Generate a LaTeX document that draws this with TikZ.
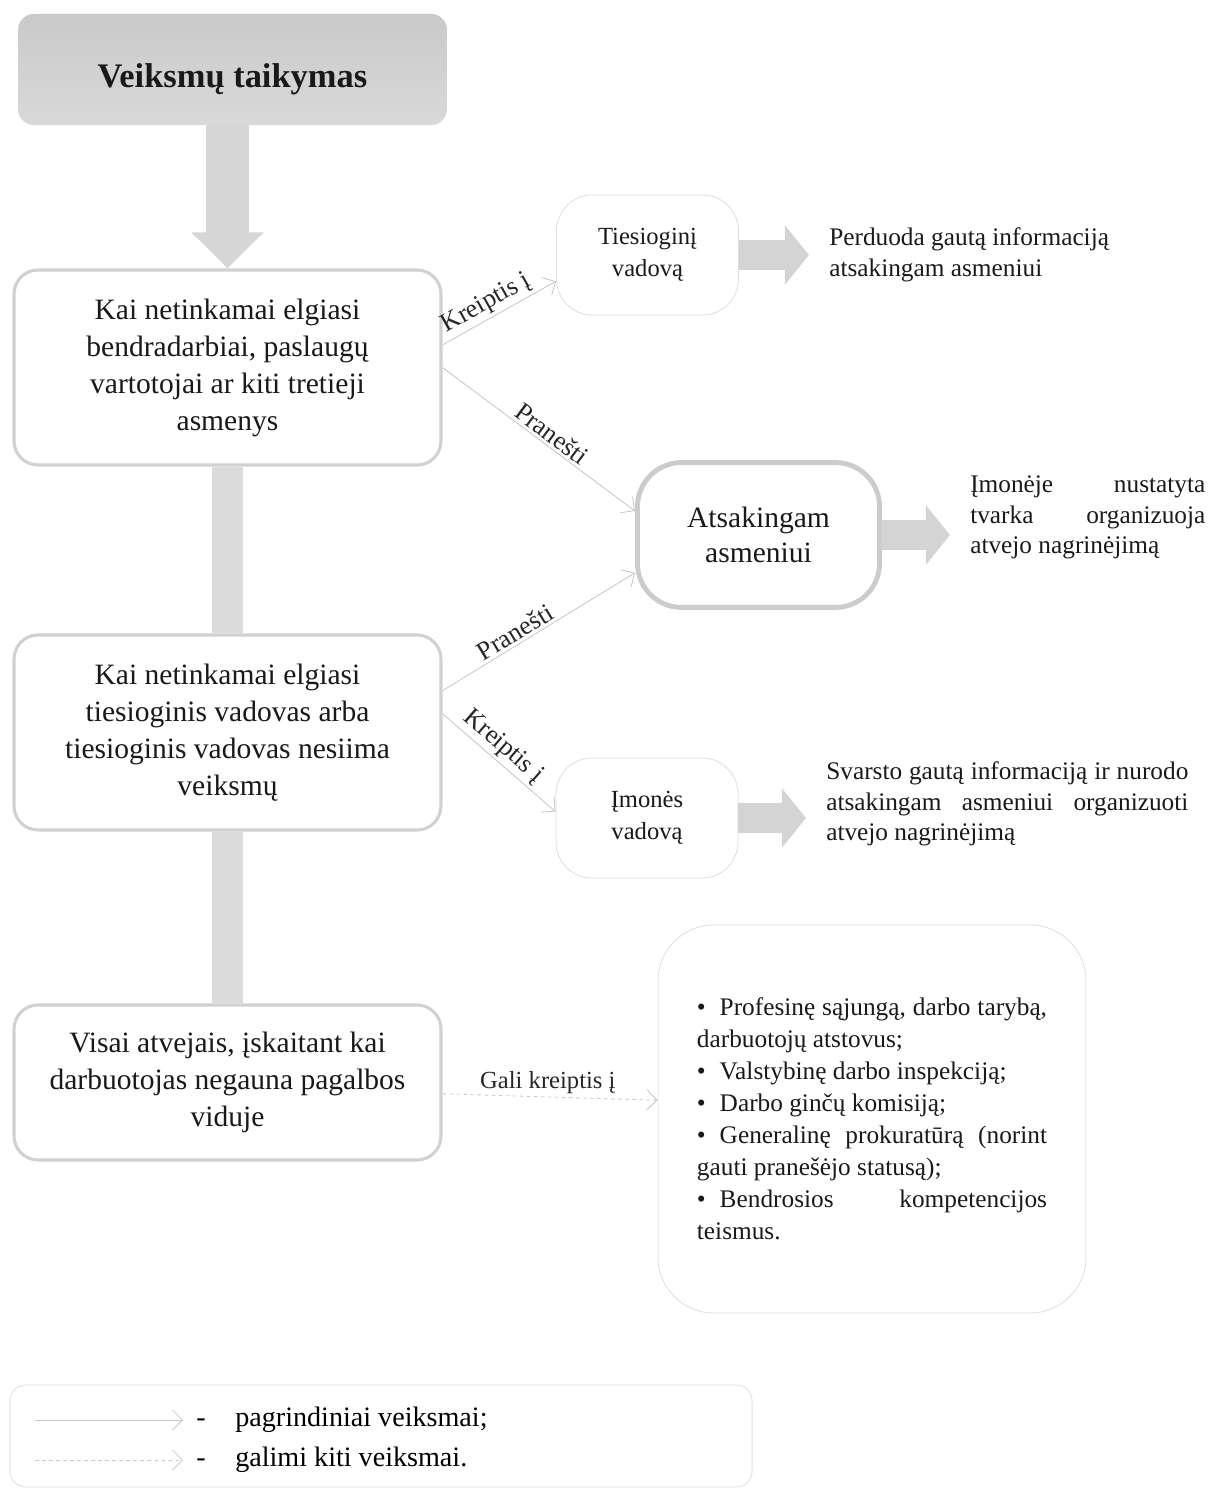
\documentclass[tikz,border=0pt]{standalone}
\usepackage{fontspec}
\setmainfont{Liberation Serif}
\usetikzlibrary{arrows.meta, positioning}
\hyphenpenalty=10000
\exhyphenpenalty=10000

\newcommand{\fsz}[2]{\fontsize{#1}{#2}\selectfont}

\tikzset{
  titlebox/.style={
    rounded corners=0.4cm, top color=black!21, bottom color=black!15,
    minimum width=10.72cm, minimum height=2.78cm,
    font=\fsz{24.5}{29}\bfseries, text=black!90
  },
  casebox/.style={
    draw=black!18, line width=2.2pt, rounded corners=0.6cm, fill=white,
    align=center, minimum width=10.67cm, font=\fsz{21}{26.3}, text=black!90
  },
  whobox/.style={
    draw=black!13, line width=0.6pt, rounded corners=0.9cm, align=center,
    minimum width=4.55cm, minimum height=3cm, font=\fsz{17.5}{22.8},
    text=black!90
  },
  respbox/.style={
    draw=black!20, line width=3.5pt, rounded corners=1.1cm, align=center,
    minimum width=6.05cm, minimum height=3.62cm, font=\fsz{21}{25},
    text=black!90
  },
  listbox/.style={
    draw=black!13, line width=0.6pt, rounded corners=1.4cm, align=justify,
    text width=8.75cm, minimum width=10.7cm, minimum height=9.7cm,
    font=\fsz{18}{22.8}, text=black!90
  },
  desctext/.style={
    anchor=west, align=justify, inner sep=0pt, font=\fsz{18}{21.8},
    text=black!90
  },
  legendbox/.style={
    draw=black!13, line width=0.6pt, rounded corners=0.4cm,
    minimum width=18.55cm, minimum height=2.55cm
  },
  flowarrow/.style={
    -{Straight Barb[length=2.5mm, width=5mm]}, draw=black!22, line width=0.6pt
  },
  maybearrow/.style={flowarrow, dash pattern=on 2.5pt off 2.5pt},
  flowlabel/.style={
    above, font=\fsz{18.5}{22}, text=black!85, inner sep=2pt
  },
  fatarrow/.style={
    -{Triangle[length=0.6cm, width=1.45cm]}, draw=black!17,
    line width=0.75cm, shorten >=0.5cm
  },
  spine/.style={draw=black!14, line width=0.78cm},
}

\begin{document}
\begin{tikzpicture}[x=0.025cm, y=-0.025cm]
  \useasboundingbox (0, 0) rectangle (1209, 1489);

  % Title
  \node[titlebox] (title) at (232.5, 69.5)
    {\raisebox{-0.45cm}[0pt][0pt]{Veiksmų taikymas}};

  % Left column: cases
  \node[casebox, minimum height=4.875cm] (case1) at (227.5, 367.5)
    {Kai netinkamai elgiasi\\bendradarbiai, paslaugų\\vartotojai ar kiti tretieji\\asmenys};
  \node[casebox, minimum height=4.875cm] (case2) at (227.5, 732.5)
    {Kai netinkamai elgiasi\\tiesioginis vadovas arba\\tiesioginis vadovas nesiima\\veiksmų};
  \node[casebox, minimum height=3.875cm] (case3) at (227.5, 1082.5)
    {Visai atvejais, įskaitant kai\\darbuotojas negauna pagalbos\\viduje};

  \draw[-{Triangle[length=0.9cm, width=1.75cm]}, draw=black!16,
    line width=1.05cm] (title.south -| case1.north) -- (case1.north);
  \draw[spine] (case1.south) -- (case2.north);
  \draw[spine] (case2.south) -- (case3.north);

  % Whom to address
  \node[whobox] (direct) at (647.5, 255) {Tiesioginį\\vadovą};
  \node[respbox] (resp) at (758.5, 535) {Atsakingam\\asmeniui};
  \node[whobox] (head) at (647, 818) {Įmonės\\vadovą};

  % What happens next
  \node[desctext, align=left] (passon) at (829, 255)
    {Perduoda gautą informaciją\\atsakingam asmeniui};
  \node[desctext, text width=5.875cm] (order) at (970, 517.5)
    {Įmonėje nustatyta tvarka organizuoja atvejo nagrinėjimą};
  \node[desctext, text width=9.05cm] (consider) at (826, 804)
    {Svarsto gautą informaciją ir nurodo atsakingam asmeniui organizuoti atvejo nagrinėjimą};

  \draw[fatarrow] (direct.east) -- (direct.east -| passon.west);
  \draw[fatarrow] (resp.east) -- (resp.east -| order.west);
  \draw[fatarrow] (head.east) -- (head.east -| consider.west);

  % Outside bodies
  \node[listbox] (outside) at (872, 1119)
    {\textbullet\hspace{0.55em}Profesinę sąjungą, darbo tarybą, darbuotojų atstovus;\\
     \textbullet\hspace{0.55em}Valstybinę darbo inspekciją;\\
     \textbullet\hspace{0.55em}Darbo ginčų komisiją;\\
     \textbullet\hspace{0.55em}Generalinę prokuratūrą (norint gauti pranešėjo statusą);\\
     \textbullet\hspace{0.55em}Bendrosios kompetencijos teismus.};

  % Connectors
  \draw[flowarrow] (case1.6) -- node[flowlabel, sloped, pos=0.45] {Kreiptis į}
    (direct.196);
  \draw[flowarrow] (case1.east) -- node[flowlabel, sloped, pos=0.53] {Pranešti}
    (resp.169);
  \draw[flowarrow] (case2.11) -- node[flowlabel, sloped, pos=0.41] {Pranešti}
    (resp.197);
  \draw[flowarrow] (case2.5) -- node[flowlabel, sloped, pos=0.45] {Kreiptis į}
    (head.176);
  \draw[maybearrow] (case3.-3) -- node[flowlabel, font=\fsz{17.5}{21}, pos=0.49]
    {Gali kreiptis į} (outside.175);

  % Legend
  \node[legendbox] (legend) at (381, 1436) {};
  \coordinate (solidA) at (35, 1420);
  \coordinate (solidB) at (183, 1420);
  \coordinate (dashA) at (35, 1460);
  \coordinate (dashB) at (183, 1460);
  \draw[flowarrow] (solidA) -- (solidB);
  \draw[maybearrow] (dashA) -- (dashB);
  \node[font=\fsz{20}{24}] (dash1) at (201, 1423) {-};
  \node[font=\fsz{20}{24}] (dash2) at (201, 1463) {-};
  \node[font=\fsz{20}{24}, anchor=west, inner sep=0pt] (main) at (235, 1420)
    {pagrindiniai veiksmai;};
  \node[font=\fsz{20}{24}, anchor=west, inner sep=0pt] (other) at (235, 1460)
    {galimi kiti veiksmai.};
\end{tikzpicture}
\end{document}
